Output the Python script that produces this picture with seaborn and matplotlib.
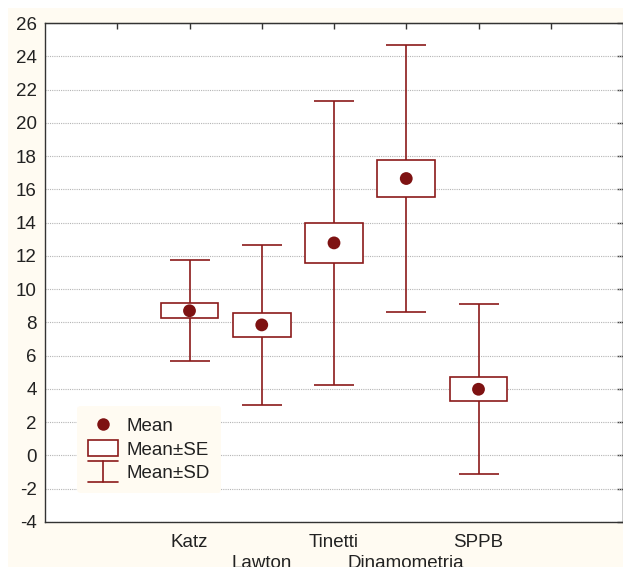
import numpy as np
import pandas as pd
import matplotlib
matplotlib.use("Agg")
import matplotlib.pyplot as plt
import matplotlib.patches as mpatches
from matplotlib.lines import Line2D
from matplotlib.legend_handler import HandlerBase
import seaborn as sns

# 数据：均值、标准误、标准差
categories = ["Katz", "Lawton", "Tinetti", "Dinamometria", "SPPB"]
means = [8.70, 7.85, 12.78, 16.65, 3.98]
se = [0.44, 0.70, 1.21, 1.13, 0.73]
sd = [3.05, 4.80, 8.55, 8.05, 5.12]

y_ticks = list(range(-4, 27, 2))

RED = "#8B1A1A"
DOT = "#7E1212"
CREAM = "#FFFBF2"

df = pd.DataFrame({"cat": categories, "mean": means, "se": se, "sd": sd})
df["pos"] = np.arange(2, 2 + len(df))

sns.set_style("white")
plt.rcParams["font.family"] = ["Liberation Sans", "DejaVu Sans"]
plt.rcParams["axes.unicode_minus"] = False

fig = plt.figure(figsize=(6.23, 5.67), dpi=100, facecolor="white")
fig.patches.append(mpatches.Rectangle((8 / 623, 0), 1, 1 - 8 / 567,
                                      transform=fig.transFigure,
                                      facecolor=CREAM, edgecolor="none", zorder=-10))
ax = fig.add_axes([45 / 623, 45 / 567, 578 / 623, 499 / 567])
ax.set_facecolor("white")

# 标准差须线
ax.errorbar(df["pos"], df["mean"], yerr=df["sd"], fmt="none", ecolor=RED,
            elinewidth=1.2, capsize=14.5, capthick=1.2, zorder=2)
# 标准误方框
ax.bar(df["pos"], 2 * df["se"], bottom=df["mean"] - df["se"], width=0.8,
       facecolor="white", edgecolor=RED, linewidth=1.2, zorder=3)
# 均值点
sns.scatterplot(data=df, x="pos", y="mean", ax=ax, color=DOT, s=85,
                edgecolor="none", zorder=4, legend=False)

ax.set_xlim(0, 8)
ax.set_ylim(-4, 26)
ax.set_yticks(y_ticks)
ax.set_xticks(range(1, 8))
ax.set_xticklabels([""] + [c if i % 2 == 0 else "\n" + c for i, c in enumerate(categories)] + [""])
ax.set_xlabel("")
ax.set_ylabel("")
ax.grid(axis="y", color="#b5b5b5", linestyle=(0, (1, 1)), linewidth=0.8, zorder=0)
ax.set_axisbelow(True)

for s in ax.spines.values():
    s.set_color("#333333")
    s.set_linewidth(1.0)

ax.tick_params(axis="y", direction="out", length=4, width=1, color="#333333",
               labelsize=13.5, pad=2, labelcolor="#222222")
ax.tick_params(axis="x", direction="in", length=4, width=1, color="#333333",
               labelsize=13.5, pad=8.5, labelcolor="#222222")
for lab in ax.get_xticklabels():
    lab.set_linespacing(1.3)
sec_y = ax.secondary_yaxis("right")
sec_y.set_yticks(y_ticks)
sec_y.tick_params(direction="in", length=4, width=1, color="#333333", labelright=False)
sec_x = ax.secondary_xaxis("top")
sec_x.set_xticks(range(1, 8))
sec_x.tick_params(direction="in", length=4, width=1, color="#333333", labeltop=False)


class SDHandler(HandlerBase):
    def create_artists(self, legend, orig_handle, xdescent, ydescent, width, height, fontsize, trans):
        x0, x1 = -xdescent, -xdescent + width
        xm = (x0 + x1) / 2
        y0, y1 = -ydescent - 0.15 * height, -ydescent + 1.15 * height
        kw = dict(color=RED, linewidth=1.2, transform=trans)
        return [Line2D([xm, xm], [y0, y1], **kw),
                Line2D([x0, x1], [y0, y0], **kw),
                Line2D([x0, x1], [y1, y1], **kw)]


h_mean = Line2D([], [], marker="o", linestyle="none", markersize=9,
                markerfacecolor=DOT, markeredgecolor="none")
h_se = mpatches.Rectangle((0, 0), 1, 1, facecolor="white", edgecolor=RED, linewidth=1.2)
h_sd = object()
leg = ax.legend([h_mean, h_se, h_sd], ["Mean", "Mean\u00b1SE", "Mean\u00b1SD"],
                handler_map={object: SDHandler()},
                loc="lower left", bbox_to_anchor=(32 / 578, 29 / 499),
                frameon=True, fontsize=13.5, handlelength=1.6, handleheight=0.95,
                handletextpad=0.45, labelspacing=0.25, borderpad=0.6, borderaxespad=0)
leg.get_frame().set_facecolor(CREAM)
leg.get_frame().set_edgecolor("none")
leg.get_frame().set_alpha(1)
for t in leg.get_texts():
    t.set_color("#222222")

fig.savefig("out.png", dpi=100, facecolor=fig.get_facecolor())
